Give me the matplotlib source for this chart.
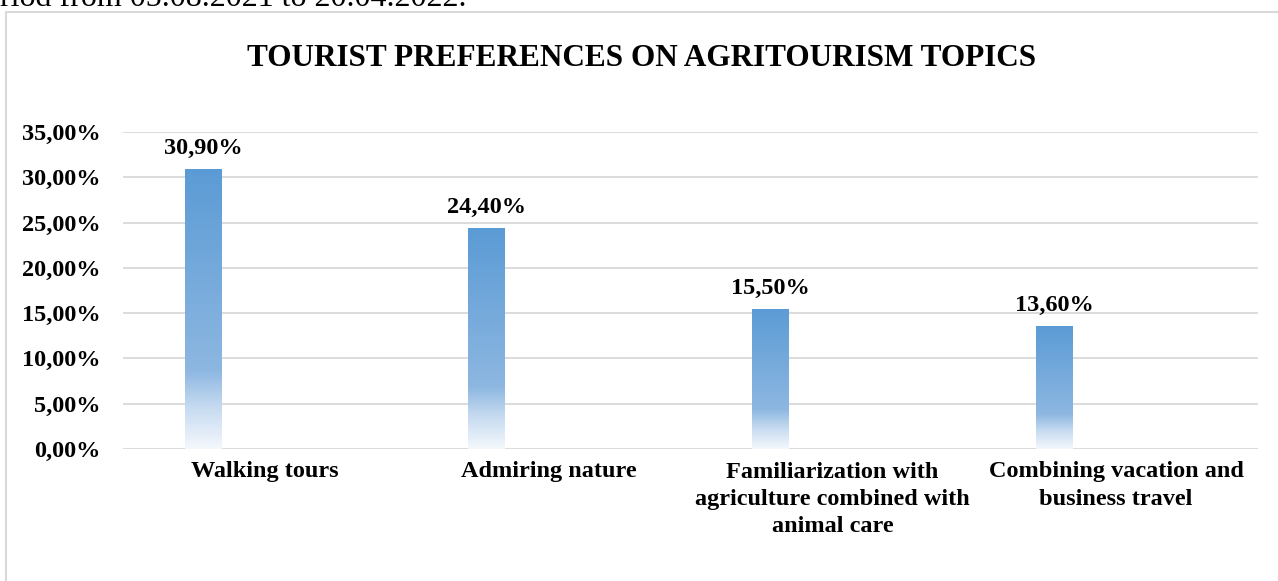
import numpy as np
import matplotlib.pyplot as plt
import matplotlib.patches as patches
from matplotlib.colors import LinearSegmentedColormap
from matplotlib.ticker import FuncFormatter

plt.rcParams['font.family'] = ['Liberation Serif', 'DejaVu Serif']

categories = ["Walking tours", "Admiring nature",
              "Familiarization with\nagriculture combined with\nanimal care",
              "Combining vacation and\nbusiness travel"]
values = [0.309, 0.244, 0.155, 0.136]
yticks = [0.0, 0.05, 0.10, 0.15, 0.20, 0.25, 0.30, 0.35]
title = "TOURIST PREFERENCES ON AGRITOURISM TOPICS"
above_text = "riod from 05.08.2021 to 20.04.2022."

def pct(v, pos=None):
    return ("%.2f%%" % (v * 100)).replace('.', ',')

W, H = 1278, 581
fig = plt.figure(figsize=(W / 100, H / 100), dpi=100)

# text of the page above the chart, cut off by the crop
fig.text(0.0, 1 - 6 / H, above_text, fontsize=23, ha='left', va='baseline')

# chart frame
fig.patches.append(patches.Rectangle((6 / W, -0.1), 1.2, 1 - 12 / H + 0.1,
                                     transform=fig.transFigure, fill=False,
                                     edgecolor='#D9D9D9', linewidth=1.5))

fig.text(642 / W, 1 - 59 / H, title, fontsize=22.5, fontweight='bold',
         ha='center', va='center')

ax = fig.add_axes([123 / W, 1 - 449 / H, (1258 - 123) / W, (449 - 132) / H])
x = np.arange(len(categories))
shift = -0.218  # bar sits left of the category centre (first slot of a group)
bars = ax.bar(x + shift, values, width=0.13, color='none', edgecolor='none', zorder=3)

cmap = LinearSegmentedColormap.from_list(
    'grad', [(0.0, '#5B9BD5'), (0.72, '#8DB7E1'), (0.85, '#C5DAF0'), (1.0, '#F4F8FC')])
grad = np.linspace(1, 0, 256).reshape(-1, 1)
for b in bars:
    x0, y0 = b.get_x(), b.get_y()
    im = ax.imshow(grad, cmap=cmap, aspect='auto', zorder=3, origin='lower',
                   extent=(x0, x0 + b.get_width(), y0, y0 + b.get_height()))
    im.set_clip_path(b)
ax.set_xlim(-0.5, len(categories) - 0.5)
ax.set_ylim(0, 0.35)

for xi, v in zip(x + shift, values):
    ax.annotate(pct(v), (xi, v), xytext=(0, 7), textcoords='offset points',
                ha='center', va='bottom', fontsize=17.5, fontweight='bold')

ax.set_yticks(yticks)
ax.yaxis.set_major_formatter(FuncFormatter(pct))
ax.set_xticks(x)
ax.set_xticklabels(categories, fontsize=17.5, fontweight='bold', linespacing=1.38, va='top')
for lab in ax.get_yticklabels():
    lab.set_fontsize(17.5)
    lab.set_fontweight('bold')
ax.tick_params(axis='both', length=0)
ax.tick_params(axis='y', pad=16)
ax.tick_params(axis='x', pad=9)
ax.grid(axis='y', color='#D9D9D9', linewidth=1.3, zorder=0)
for s in ax.spines.values():
    s.set_visible(False)
ax.set_axisbelow(True)

fig.savefig('out.png', dpi=100)
